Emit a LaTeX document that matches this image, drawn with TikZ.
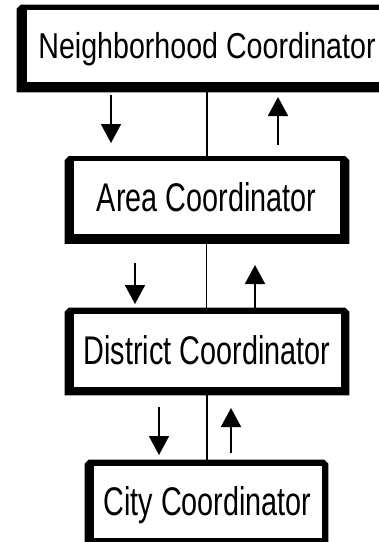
\documentclass[tikz,border=0pt]{standalone}
\usepackage{fontspec}
\usepackage{graphicx}
\setmainfont{Liberation Sans}
\usetikzlibrary{calc,backgrounds,arrows.meta}
\tikzset{
  cbox/.style={draw=black, line width=0.6pt, fill=white, inner sep=0pt, text height=#1, text depth=0pt, align=center},
  link/.style={line width=1.9pt},
  flow/.style={line width=1.9pt, -{Triangle[width=20pt,length=19pt]}},
}
\newcommand{\frameit}[5]{%
  \fill[black] ($(#1.north west)+(-#2,-#4)+(0,4)$) -- ($(#1.north west)+(-#2,-#4)+(4,0)$)
    -- ($(#1.north east)+(#3,-#4)+(-4,0)$) -- ($(#1.north east)+(#3,-#4)+(0,4)$)
    -- ($(#1.south east)+(#3,#5)$) -- ($(#1.south west)+(-#2,#5)$) -- cycle;}
\begin{document}
\begin{tikzpicture}[x=1pt,y=-1pt]
\useasboundingbox (0,0) rectangle (379,542);
\clip (0,0) rectangle (379,542);
\node[cbox=25.8pt, minimum width=362pt, minimum height=73pt] (n) at (207,45.5)
  {\fontsize{36}{42}\selectfont\scalebox{0.795}[1]{Neighborhood Coordinator}};
\node[cbox=28.6pt, minimum width=267pt, minimum height=74pt] (a) at (206.5,197.5)
  {\fontsize{40}{46}\selectfont\scalebox{0.72}[1]{Area Coordinator}};
\node[cbox=28.6pt, minimum width=268pt, minimum height=74pt] (d) at (207,350)
  {\fontsize{40}{46}\selectfont\scalebox{0.72}[1]{District Coordinator}};
\node[cbox=28.6pt, minimum width=229pt, minimum height=73pt] (c) at (207.5,501.5)
  {\fontsize{40}{46}\selectfont\scalebox{0.72}[1]{City Coordinator}};
\begin{scope}[on background layer]
  \frameit{n}{9}{8}{4}{10}
  \frameit{a}{8}{9}{4}{9}
  \frameit{d}{8}{8}{5}{8}
  \frameit{c}{8}{6}{5}{9}
  \draw[link] (n.south) -- (n.south |- a.north);
  \draw[link] (a.south) -- (a.south |- d.north);
  \draw[link] (d.south) -- (d.south |- c.north);
\end{scope}
\coordinate (d1s) at (111,95);  \coordinate (d1e) at (111,143);
\coordinate (u1s) at (278,145); \coordinate (u1e) at (278,97);
\coordinate (d2s) at (135,263); \coordinate (d2e) at (135,304);
\coordinate (u2s) at (255,312); \coordinate (u2e) at (255,265);
\coordinate (d3s) at (159,407); \coordinate (d3e) at (159,455);
\coordinate (u3s) at (231,453); \coordinate (u3e) at (231,408);
\draw[flow] (d1s) -- (d1e);
\draw[flow] (u1s) -- (u1e);
\draw[flow] (d2s) -- (d2e);
\draw[flow] (u2s) -- (u2e);
\draw[flow] (d3s) -- (d3e);
\draw[flow] (u3s) -- (u3e);
\end{tikzpicture}
\end{document}
